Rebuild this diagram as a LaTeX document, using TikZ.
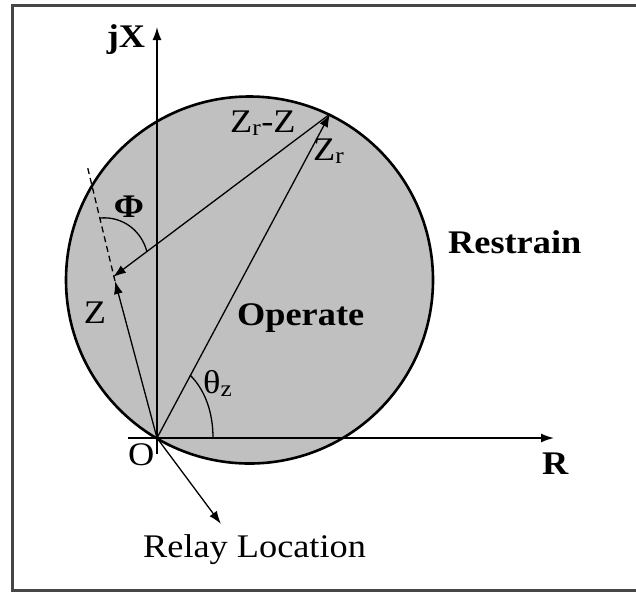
\documentclass[tikz,border=0pt]{standalone}
\usepackage{fontspec}
\setmainfont{Liberation Serif}[FakeStretch=1.1]
\usetikzlibrary{arrows.meta}
\definecolor{fillgray}{RGB}{192,192,192}
\definecolor{framegray}{RGB}{70,70,70}
\begin{document}
\begin{tikzpicture}[x=1pt,y=-1pt,
  vec/.style={line width=1.3pt,-{Latex[length=13pt,width=9pt]}},
  axis/.style={line width=1.6pt,-{Latex[length=13pt,width=9pt]}},
  lbl/.style={inner sep=0pt,font=\fontsize{33}{36}\selectfont},
  blbl/.style={inner sep=0pt,font=\fontsize{33}{36}\selectfont\bfseries}]
\useasboundingbox (0,0) rectangle (636,592);
% frame
\draw[framegray,line width=3pt] (640,5) -- (12,5) -- (12,590) -- (640,590);
% circle
\coordinate (C) at (249.5,280);
\draw[fill=fillgray,line width=2.6pt] (C) circle[radius=183.5];
% points
\coordinate (O) at (157,438);
\coordinate (Zr) at (330,114);
\coordinate (Z) at (115,281);
\coordinate (ZZ) at (113,277);
\coordinate (D) at (87,165);
\coordinate (Ytop) at (157,27);
\coordinate (Ybot) at (157,454);
\coordinate (Xl) at (128,438);
\coordinate (Xr) at (554,438);
\coordinate (RL) at (221,524);
% axes
\draw[axis] (Ybot) -- (Ytop);
\draw[axis] (Xl) -- (Xr);
% vectors
\draw[vec] (O) -- (Zr);
\draw[vec] (O) -- (Z);
\draw[vec] (Zr) -- (ZZ);
\draw[vec] (O) -- (RL);
\draw[line width=1.3pt,dash pattern=on 6pt off 4pt] (Z) -- (D);
% angle arcs
\coordinate (P1) at (100,218);
\coordinate (P2) at (147,252);
\draw[line width=1.3pt] (P1) .. controls (124,216) and (142,232) .. (P2);
\coordinate (T1) at (213,438);
\coordinate (T2) at (190,375);
\draw[line width=1.3pt] (T1) .. controls (213,412) and (205,390) .. (T2);
% labels
\node[blbl] (ljx) at (126,40) {jX};
\node[lbl,anchor=base west] (lzrz) at (230,132) {Z\textsubscript{r}-Z};
\node[lbl,anchor=base west] (lzr) at (313,160) {Z\textsubscript{r}};
\node[blbl] (lphi) at (129,207) {Φ};
\node[lbl] (lz) at (95,313) {Z};
\node[blbl,anchor=base west] (lop) at (237,325) {Operate};
\node[blbl,anchor=base west] (lres) at (448,253) {Restrain};
\node[blbl,anchor=base west] (lr) at (542,474) {R};
\node[lbl,anchor=base west] (lth) at (203,393) {θ\textsubscript{z}};
\node[lbl,anchor=base west] (lo) at (128,465) {O};
\node[lbl,anchor=base west] (lrl) at (143,557) {Relay Location};
\end{tikzpicture}
\end{document}
